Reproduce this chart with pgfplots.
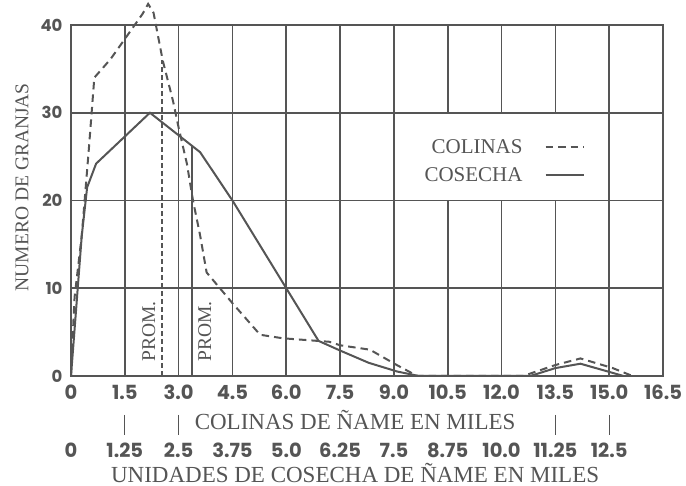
\documentclass[border=0pt]{standalone}
\usepackage{pgfplots}
\pgfplotsset{compat=1.18}
\usepackage{fontspec}
\setmainfont{Liberation Serif}
\newfontfamily\numfont{Poppins}
\definecolor{ink}{RGB}{85,85,85}

\begin{document}
\begin{tikzpicture}
\begin{axis}[
    name=main,
    width=592pt, height=351pt, scale only axis,
    xmin=0, xmax=16.5, ymin=0, ymax=40,
    clip=false,
    xtick={0,1.5,3,4.5,6,7.5,9,10.5,12,13.5,15,16.5},
    xticklabels={0,1.5,3.0,4.5,6.0,7.5,9.0,10.5,12.0,13.5,15.0,16.5},
    ytick={0,10,20,30,40},
    extra x ticks={0,1.5,3,4.5,6,7.5,9,10.5,12,13.5,15},
    extra x tick labels={0,1.25,2.5,3.75,5.0,6.25,7.5,8.75,10.0,11.25,12.5},
    extra x tick style={grid=none, xticklabel style={yshift=-58pt}},
    grid=major,
    grid style={ink, line width=1.6pt},
    axis line style={ink, line width=1.6pt},
    major tick length=0pt,
    /pgf/number format/assume math mode=true,
    xticklabel style={font=\numfont\bfseries\fontsize{19.5}{19.5}\selectfont, text=ink, anchor=center, yshift=-16pt},
    yticklabel style={font=\numfont\bfseries\fontsize{16.5}{16.5}\selectfont, text=ink, anchor=east, xshift=-5pt},
    xlabel={COLINAS DE ÑAME EN MILES},
    xlabel style={at={(axis description cs:0.48,-0.125)}, anchor=center, font=\fontsize{23}{23}\selectfont, text=ink},
    ylabel={NUMERO DE GRANJAS},
    ylabel style={at={(axis description cs:-0.0828,0.538)}, anchor=center, font=\fontsize{19.5}{19.5}\selectfont, text=ink},
    legend style={at={(axis cs:14.32,24.5)}, anchor=east, draw=none, fill=none, inner sep=0pt,
        font=\fontsize{21}{21}\selectfont, text=ink, row sep=9pt},
    legend plot pos=right,
    legend cell align=right,
    legend image code/.code={\path (0pt,0pt); \draw[#1] (20pt,0pt) -- (58pt,0pt);},
]
% legend panel: white box between grid lines 9-15, 20-30
\fill[white] ([xshift=0.85pt,yshift=0.85pt]axis cs:9,20) rectangle ([xshift=-0.85pt,yshift=-0.85pt]axis cs:15,30);

\addplot[ink, line width=2pt, dash pattern=on 7.5pt off 5pt] coordinates {
(0,0) (0.03,3) (0.1,9) (0.3,16) (0.5,26) (0.65,34) (1.1,36.1) (1.5,38.4)
(2.0,41.3) (2.15,42.4) (2.3,41.4) (2.56,35.9) (2.84,31.4) (3.0,28.3)
(3.23,24.2) (3.4,20) (3.6,16) (3.78,11.8) (4.5,8.3) (5.27,4.7) (5.9,4.3)
(7.2,3.9) (7.5,3.5) (8.33,3.0) (9.08,1.25) (9.65,0) (12.6,0) (13.5,1.25)
(14.2,2.0) (15.1,0.9) (15.65,0)
};
\addlegendentry{COLINAS}
\addplot[ink, line width=2pt] coordinates {
(0,0) (0.15,8) (0.3,16) (0.45,21.5) (0.7,24.2) (2.2,30) (3.6,25.5) (4.5,20)
(6.0,10) (6.9,4) (7.5,2.9) (8.3,1.5) (9.1,0.5) (9.7,0) (12.8,0) (13.5,0.9)
(14.2,1.4) (15.1,0.35) (15.4,0)
};
\addlegendentry{COSECHA}

% averages (PROM.)
\addplot[ink, line width=1.6pt, dash pattern=on 5pt off 3pt, forget plot] coordinates {(2.53,0) (2.53,36)};
\addplot[ink, line width=1.6pt, forget plot] coordinates {(3.38,0) (3.38,26.3)};
\node[rotate=90, text=ink, font=\fontsize{19.5}{19.5}\selectfont] at (axis cs:2.17,5.06) {PROM.};
\node[rotate=90, text=ink, font=\fontsize{19.5}{19.5}\selectfont] at (axis cs:3.73,5.06) {PROM.};

% connectors between the two scales
\pgfplotsinvokeforeach{1.5,3,13.5,15}{
  \draw[ink, line width=1.1pt] ([yshift=-39pt]axis cs:#1,0) -- ([yshift=-59pt]axis cs:#1,0);
}
\node[text=ink, font=\fontsize{23}{23}\selectfont] at (axis description cs:0.48,-0.276) {UNIDADES DE COSECHA DE ÑAME EN MILES};
\end{axis}
\pgfresetboundingbox
\path[use as bounding box] ([shift={(-71pt,-110pt)}]main.south west) rectangle ++(686pt,486pt);
\end{tikzpicture}
\end{document}
